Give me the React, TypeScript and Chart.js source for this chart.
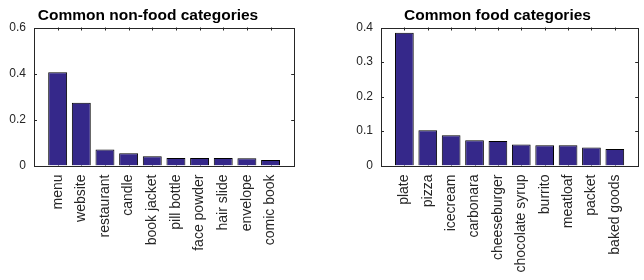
import React, { useEffect, useRef } from 'react';
import { Chart, registerables } from 'chart.js';

Chart.register(...registerables);

const nonFoodCategories = ['menu', 'website', 'restaurant', 'candle', 'book jacket', 'pill bottle', 'face powder', 'hair slide', 'envelope', 'comic book'];
const nonFoodValues = [0.405, 0.273, 0.07, 0.053, 0.04, 0.033, 0.033, 0.033, 0.031, 0.024];
const nonFoodTicks = [0, 0.2, 0.4, 0.6];
const nonFoodTitle = 'Common non-food categories';

const foodCategories = ['plate', 'pizza', 'icecream', 'carbonara', 'cheeseburger', 'chocolate syrup', 'burrito', 'meatloaf', 'packet', 'baked goods'];
const foodValues = [0.385, 0.102, 0.0875, 0.073, 0.071, 0.061, 0.059, 0.0585, 0.052, 0.048];
const foodTicks = [0, 0.1, 0.2, 0.3, 0.4];
const foodTitle = 'Common food categories';

const AXIS_COLOR = '#262626';
const BAR_COLOR = '#35288a';
const FONT = '"Liberation Sans", Arial, Helvetica, sans-serif';

const matlabAxes = {
  id: 'matlabAxes',
  beforeDatasetsDraw(chart: any) {
    const { ctx, chartArea: a, scales } = chart;
    const x = scales.x;
    const y = scales.y;
    const L = 3;
    ctx.save();
    ctx.strokeStyle = AXIS_COLOR;
    ctx.lineWidth = 1;
    ctx.beginPath();
    for (let i = 1; i < x.ticks.length - 1; i++) {
      const px = Math.round(x.getPixelForTick(i)) + 0.5;
      ctx.moveTo(px, a.top);
      ctx.lineTo(px, a.top + L);
      ctx.moveTo(px, a.bottom);
      ctx.lineTo(px, a.bottom - L);
    }
    y.ticks.forEach((t: any) => {
      const py = Math.round(y.getPixelForValue(t.value)) + 0.5;
      ctx.moveTo(a.left, py);
      ctx.lineTo(a.left + L, py);
      ctx.moveTo(a.right, py);
      ctx.lineTo(a.right - L, py);
    });
    ctx.stroke();
    ctx.restore();
  },
  afterDatasetsDraw(chart: any, _args: any, opts: any) {
    const { ctx, chartArea: a } = chart;
    ctx.save();
    ctx.strokeStyle = AXIS_COLOR;
    ctx.lineWidth = 1;
    const l = Math.round(a.left) + 0.5;
    const r = Math.round(a.right) + 0.5;
    const t = Math.round(a.top) + 0.5;
    const b = Math.round(a.bottom) + 0.5;
    ctx.strokeRect(l, t, r - l, b - t);
    if (opts && opts.text) {
      ctx.fillStyle = '#000';
      ctx.font = `bold ${opts.size}px ${FONT}`;
      ctx.textAlign = 'center';
      ctx.textBaseline = 'alphabetic';
      ctx.fillText(opts.text, opts.x, opts.y);
    }
    ctx.restore();
  },
};

type PanelProps = {
  categories: string[];
  values: number[];
  ticks: number[];
  title: string;
  width: number;
  left: number;
  plotLeft: number;
  plotRight: number;
  titleX: number;
};

function Panel(p: PanelProps) {
  const ref = useRef<HTMLCanvasElement>(null);
  useEffect(() => {
    if (!ref.current) return;
    const labels = ['', ...p.categories, ''];
    const data = [null, ...p.values, null];
    const top = 27.5;
    const bottom = 165.5;
    const chart = new Chart(ref.current, {
      type: 'bar',
      data: {
        labels,
        datasets: [
          {
            data: data as any,
            backgroundColor: BAR_COLOR,
            borderColor: '#000',
            borderWidth: 1,
            barPercentage: 0.8,
            categoryPercentage: 1,
          },
        ],
      },
      plugins: [matlabAxes],
      options: {
        responsive: false,
        animation: false,
        layout: { padding: { left: 0, right: p.width - p.plotRight, top, bottom: 0 } },
        plugins: {
          legend: { display: false },
          tooltip: { enabled: false },
          title: { display: false },
          matlabAxes: { text: p.title, x: p.titleX, y: 19.5, size: 15.5 },
        } as any,
        scales: {
          x: {
            type: 'category',
            offset: false,
            grid: { display: false, drawTicks: false },
            border: { display: false },
            ticks: {
              autoSkip: false,
              minRotation: 90,
              maxRotation: 90,
              padding: 9,
              color: AXIS_COLOR,
              font: { family: FONT, size: 14 },
            },
            afterFit: (s: any) => {
              s.height = 280 - bottom;
            },
          },
          y: {
            min: 0,
            max: p.ticks[p.ticks.length - 1],
            grid: { display: false, drawTicks: false },
            border: { display: false },
            ticks: {
              padding: 8,
              color: AXIS_COLOR,
              font: { family: FONT, size: 12 },
            },
            afterBuildTicks: (s: any) => {
              s.ticks = p.ticks.map((v) => ({ value: v }));
            },
            afterFit: (s: any) => {
              s.width = p.plotLeft;
            },
          },
        },
      },
    });
    return () => chart.destroy();
  }, []);
  return (
    <canvas
      ref={ref}
      width={p.width}
      height={280}
      style={{ position: 'absolute', left: p.left, top: 0, width: p.width, height: 280, display: 'block' }}
    />
  );
}

export default function App() {
  return (
    <div
      style={{
        position: 'fixed',
        left: 0,
        top: 0,
        width: 644,
        height: 280,
        overflow: 'hidden',
        background: '#fff',
      }}
    >
      <Panel
        categories={nonFoodCategories}
        values={nonFoodValues}
        ticks={nonFoodTicks}
        title={nonFoodTitle}
        width={320}
        left={0}
        plotLeft={34}
        plotRight={298.3}
        titleX={148}
      />
      <Panel
        categories={foodCategories}
        values={foodValues}
        ticks={foodTicks}
        title={foodTitle}
        width={344}
        left={320}
        plotLeft={61}
        plotRight={325.7}
        titleX={177.5}
      />
    </div>
  );
}
